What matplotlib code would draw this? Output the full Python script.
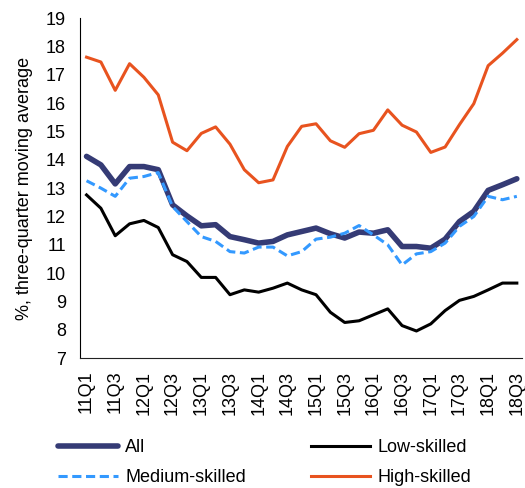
import matplotlib
matplotlib.use("Agg")
import matplotlib.pyplot as plt

plt.rcParams['font.family'] = ['Liberation Sans', 'DejaVu Sans']

quarters = [f"{y}Q{q}" for y in range(11, 19) for q in range(1, 5)][:31]
tick_labels = quarters[::2]

all_skills = [14.12, 13.82, 13.15, 13.76, 13.76, 13.65, 12.41, 12.02, 11.67, 11.71,
              11.29, 11.18, 11.06, 11.12, 11.35, 11.47, 11.59, 11.39, 11.24, 11.45,
              11.41, 11.53, 10.94, 10.94, 10.88, 11.20, 11.82, 12.18, 12.92, 13.12, 13.33]
low_skilled = [12.76, 12.29, 11.32, 11.74, 11.86, 11.61, 10.65, 10.41, 9.85, 9.85,
               9.24, 9.41, 9.33, 9.47, 9.65, 9.41, 9.24, 8.62, 8.26, 8.32,
               8.53, 8.74, 8.15, 7.96, 8.21, 8.68, 9.04, 9.18, 9.41, 9.65, 9.65]
medium_skilled = [13.26, 13.00, 12.71, 13.35, 13.41, 13.55, 12.35, 11.82, 11.29, 11.12,
                  10.76, 10.71, 10.92, 10.92, 10.61, 10.76, 11.20, 11.27, 11.41, 11.68,
                  11.35, 11.00, 10.29, 10.68, 10.76, 11.06, 11.65, 12.00, 12.71, 12.59, 12.71]
high_skilled = [17.62, 17.45, 16.45, 17.39, 16.91, 16.29, 14.62, 14.32, 14.93, 15.16,
                14.55, 13.65, 13.19, 13.29, 14.47, 15.18, 15.27, 14.67, 14.44, 14.92,
                15.04, 15.76, 15.22, 14.98, 14.26, 14.45, 15.24, 15.98, 17.32, 17.76, 18.24]

fig = plt.figure(figsize=(5.25, 4.88), dpi=100)
ax = fig.add_axes([0.152, 0.266, 0.842, 0.697])

x = range(len(quarters))
ax.plot(x, all_skills, color='#353b75', lw=4, label='All', solid_capstyle='round')
ax.plot(x, low_skilled, color='black', lw=2.2, label='Low-skilled')
ax.plot(x, medium_skilled, color='#3399ff', lw=2.2, ls=(0, (3, 1.5)), label='Medium-skilled')
ax.plot(x, high_skilled, color='#e8531f', lw=2.2, label='High-skilled')

ax.set_ylim(7, 19)
ax.set_yticks(range(7, 20))
ax.set_xlim(-0.47, len(quarters) - 0.65)
ax.set_xticks(range(0, len(quarters), 2))
ax.set_xticklabels(tick_labels, rotation=90)
ax.tick_params(axis='y', length=0, labelsize=13, pad=10)
ax.tick_params(axis='x', length=0, labelsize=13, pad=9)
ax.set_ylabel('%, three-quarter moving average', fontsize=13, labelpad=9)

for s in ['top', 'right']:
    ax.spines[s].set_visible(False)
ax.spines['left'].set_color('black')
ax.spines['bottom'].set_color('#222222')

handles, labels = ax.get_legend_handles_labels()
order = [0, 2, 1, 3]
fig.legend([handles[i] for i in order], [labels[i] for i in order],
           loc='lower left', bbox_to_anchor=(0.08, -0.03), ncol=2, frameon=False,
           fontsize=13, handlelength=3.3, columnspacing=3.6, handletextpad=0.4,
           labelspacing=0.72)

fig.savefig('out.png', dpi=100)
